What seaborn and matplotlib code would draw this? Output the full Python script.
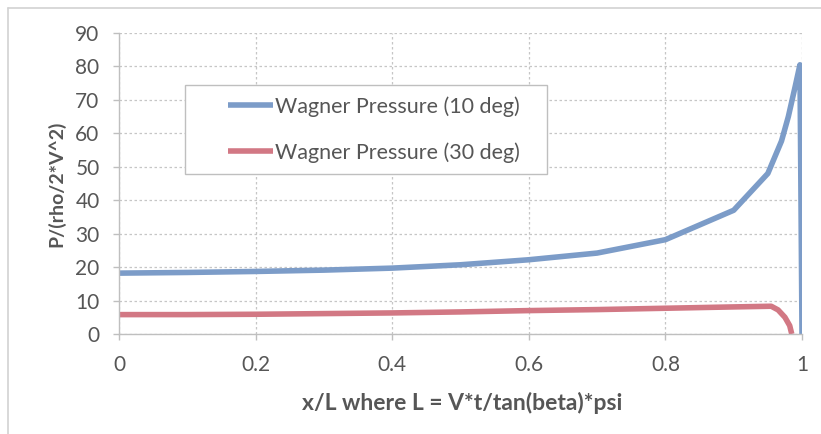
import numpy as np
import pandas as pd
import matplotlib
matplotlib.use("Agg")
import matplotlib.pyplot as plt
from matplotlib.lines import Line2D
from matplotlib.legend_handler import HandlerLine2D
import seaborn as sns

# Wagner pressure coefficient along the wetted length, two deadrise angles
x_10deg = [0.0, 0.1, 0.2, 0.3, 0.4, 0.5, 0.6, 0.7, 0.8, 0.9, 0.95, 0.97,
           0.98, 0.99, 0.997, 1.0]
p_10deg = [18.2, 18.4, 18.7, 19.1, 19.7, 20.7, 22.2, 24.2, 28.2, 37.0, 48.0,
           57.7, 65.0, 74.0, 80.5, 0.0]

x_30deg = [0.0, 0.1, 0.2, 0.3, 0.4, 0.5, 0.6, 0.7, 0.8, 0.9, 0.955, 0.965,
           0.975, 0.982, 0.985]
p_30deg = [5.8, 5.8, 5.9, 6.1, 6.3, 6.6, 7.0, 7.3, 7.7, 8.1, 8.3, 7.2,
           5.0, 2.5, 0.0]

series_names = ["Wagner Pressure (10 deg)", "Wagner Pressure (30 deg)"]
series_colors = ["#7c9cc8", "#d27884"]

x_ticks = [0, 0.2, 0.4, 0.6, 0.8, 1.0]
x_tick_labels = ["0", "0.2", "0.4", "0.6", "0.8", "1"]
y_ticks = list(range(0, 100, 10))

x_title = "x/L where L = V*t/tan(beta)*psi"
y_title = "P/(rho/2*V^2)"

frames = [
    pd.DataFrame({"x": x_10deg, "p": p_10deg, "series": series_names[0]}),
    pd.DataFrame({"x": x_30deg, "p": p_30deg, "series": series_names[1]}),
]

sns.set_theme(style="white")
plt.rcParams["font.family"] = ["Lato", "DejaVu Sans"]

TEXT = "#565656"
GRID = "#c6c6c6"
AXIS = "#bfbfbf"
LW = 4.0
FS = 15
LEG_FS = 15.5

fig = plt.figure(figsize=(8.21, 4.34), dpi=100)
fig.patch.set_facecolor("white")
ax = fig.add_axes([119 / 821, 1 - 334 / 434, (802 - 119) / 821, (334 - 33) / 434])

for df, color in zip(frames, series_colors):
    sns.lineplot(data=df, x="x", y="p", sort=False, estimator=None,
                 color=color, linewidth=LW, ax=ax, label=df["series"].iloc[0],
                 solid_capstyle="butt", solid_joinstyle="round")

ax.set_xlim(0, 1)
ax.set_ylim(0, 90)
ax.set_xticks(x_ticks)
ax.set_xticklabels(x_tick_labels)
ax.set_yticks(y_ticks)

ax.grid(True, color=GRID, linestyle=(0, (2, 2)), linewidth=0.9)
ax.set_axisbelow(True)
for side in ("top", "right"):
    ax.spines[side].set_visible(False)
for side in ("left", "bottom"):
    ax.spines[side].set_color(AXIS)
    ax.spines[side].set_linewidth(1.0)

ax.tick_params(axis="both", which="major", direction="out", length=4,
               width=1.0, color=AXIS, labelcolor=TEXT, labelsize=FS)
ax.tick_params(axis="x", pad=11)
ax.tick_params(axis="y", pad=10)
ax.xaxis.set_ticks_position("bottom")
ax.yaxis.set_ticks_position("left")

ax.set_xlabel(x_title, fontsize=16.5, fontweight="bold", color=TEXT)
ax.set_ylabel(y_title, fontsize=14, fontweight="bold", color=TEXT)
ax.xaxis.set_label_coords((462 - 119) / 683, (334 - 392) / 301)
ax.yaxis.set_label_coords((65 - 119) / 683, 0.5)


class RightAlignedSegment(HandlerLine2D):
    """Line handle drawn as a fixed-length segment against the label text."""

    def __init__(self, seg_pt, **kw):
        super().__init__(**kw)
        self.seg_pt = seg_pt

    def get_xdata(self, legend, xdescent, ydescent, width, height, fontsize):
        end = -xdescent + width
        xdata = np.array([end - self.seg_pt, end])
        return xdata, xdata


handles, labels = ax.get_legend_handles_labels()
leg = ax.legend(
    handles, labels,
    loc="upper left",
    bbox_to_anchor=((185 - 119) / 683, (334 - 85) / 301, (547 - 185) / 683, 0.0),
    mode="expand",
    borderaxespad=0.0,
    fontsize=LEG_FS,
    frameon=True,
    fancybox=False,
    shadow=False,
    framealpha=1.0,
    borderpad=0.52,
    labelspacing=1.18,
    handlelength=3.57,
    handletextpad=0.1,
    handler_map={h: RightAlignedSegment(seg_pt=32.4) for h in handles},
)
leg.get_frame().set_edgecolor(AXIS)
leg.get_frame().set_linewidth(1.0)
for t in leg.get_texts():
    t.set_color(TEXT)
for lh in leg.get_lines():
    lh.set_linewidth(LW)

# thin outer chart border along the left and top edges
fig.add_artist(Line2D([8 / 821, 8 / 821], [0, 1 - 8 / 434],
                      transform=fig.transFigure, color="#d2d2d2", linewidth=1.2))
fig.add_artist(Line2D([8 / 821, 1], [1 - 8 / 434, 1 - 8 / 434],
                      transform=fig.transFigure, color="#d2d2d2", linewidth=1.2))

fig.savefig("out.png", dpi=100, facecolor="white")
